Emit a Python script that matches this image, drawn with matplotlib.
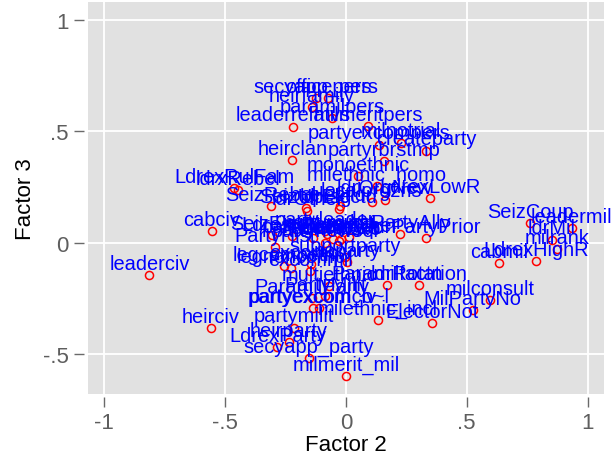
import matplotlib
matplotlib.use("Agg")
import matplotlib.pyplot as plt

# Rotated loadings: factor 2 (x) against factor 3 (y), one point per variable
names = [
    "secyapp_pers", "officepers", "heirfamily", "paramilpers", "leaderrelatvs",
    "milmeritpers", "partyexcompers", "milnotrial", "createparty", "heirclan",
    "partyrbrstmp", "monoethnic", "milethnic_homo", "LdrexLowR", "LdrexRulFam",
    "ldrxRebel", "SeizCoup", "leadermil", "ldrMil", "milrank",
    "LdrexHighR", "cabmil", "cabciv", "leaderciv", "heirciv",
    "partymilit", "heirparty", "LdrexParty", "secyapp_party", "milmerit_mil",
    "milethnic_incl", "ElectorNot", "MilPartyNo", "milconsult", "Paramilfactn",
    "ldrRotation", "multiethnic", "partyexcomciv", "partyexcom_o~l", "ParamilParty",
    "PartyMilit", "SeizRebel", "SeizUprsg", "ldrOther", "ldrElectd",
    "electldr", "localorgzns", "ldrOrgNew", "ldrPartyAlly", "ldrPartyPrior",
    "SeizElect", "LdrescPers", "partyhistory", "partyleader", "partymins",
    "partynewsel", "legislature", "electexec", "LdrexOther", "ldrMilExp",
    "PartyHist", "supportparty", "noparty", "excomciv", "excommil",
    "legcompetn", "legnoncomp",
]
f2 = [
    -0.125, -0.073, -0.141, -0.056, -0.218,
    0.093, 0.138, 0.229, 0.333, -0.222,
    0.158, 0.052, 0.129, 0.350, -0.461,
    -0.448, 0.762, 0.935, 0.853, 0.875,
    0.786, 0.635, -0.556, -0.813, -0.560,
    -0.214, -0.235, -0.283, -0.154, 0.002,
    0.133, 0.356, 0.525, 0.596, 0.172,
    0.301, -0.068, -0.137, -0.113, -0.141,
    -0.086, -0.309, -0.167, -0.159, -0.030,
    -0.024, 0.107, 0.161, 0.225, 0.330,
    -0.307, -0.223, -0.134, -0.086, -0.080,
    -0.086, -0.053, -0.022, 0.012, -0.027,
    -0.293, -0.005, 0.006, -0.146, -0.148,
    -0.254, -0.228,
]
f3 = [
    0.649, 0.649, 0.607, 0.559, 0.520,
    0.523, 0.439, 0.448, 0.412, 0.371,
    0.367, 0.299, 0.256, 0.200, 0.244,
    0.236, 0.086, 0.064, 0.013, -0.029,
    -0.083, -0.093, 0.051, -0.145, -0.382,
    -0.381, -0.447, -0.468, -0.519, -0.598,
    -0.347, -0.361, -0.302, -0.258, -0.190,
    -0.192, -0.196, -0.294, -0.294, -0.249,
    -0.240, 0.164, 0.154, 0.143, 0.152,
    0.162, 0.181, 0.193, 0.039, 0.019,
    0.032, 0.030, 0.021, 0.051, 0.039,
    0.000, 0.016, 0.016, 0.025, 0.009,
    -0.020, -0.066, -0.088, -0.096, -0.127,
    -0.104, -0.115,
]

xticks = [-1, -0.5, 0, 0.5, 1]
xticklabels = ["-1", "-.5", "0", ".5", "1"]
yticks = [-0.5, 0, 0.5, 1]
yticklabels = ["-.5", "0", ".5", "1"]

plt.rcParams["font.family"] = ["Liberation Sans", "DejaVu Sans"]
FS = 14.4      # marker labels
AXFS = 16      # ticks and axis titles
GREY = "#5e5e5e"

fig = plt.figure(figsize=(6.13, 4.64), dpi=100)
ax = fig.add_axes([88 / 613, 69 / 464, 516 / 613, 392 / 464])
ax.set_facecolor("#e1e1e1")

ax.plot(f2, f3, "o", ms=5.8, mfc="none", mec="#ff0000", mew=1.1, zorder=3)
for n, x, y in zip(names, f2, f3):
    ax.annotate(n, (x, y), xytext=(0, 4.5), textcoords="offset points",
                ha="center", va="baseline", color="#0000ff", fontsize=FS,
                zorder=4, annotation_clip=False)

ax.set_xlim(-1.067, 1.068)
ax.set_ylim(-0.679, 1.079)
ax.set_xticks(xticks)
ax.set_xticklabels(xticklabels)
ax.set_yticks(yticks)
ax.set_yticklabels(yticklabels)
ax.grid(True, color="white", lw=1.3)
ax.set_axisbelow(True)
for s in ax.spines.values():
    s.set_visible(False)
ax.spines["bottom"].set_position(("outward", 2))
ax.spines["left"].set_position(("outward", 3))
ax.tick_params(direction="out", length=7, width=1, color="#6a6a6a",
               labelcolor=GREY, labelsize=AXFS, pad=4)
ax.set_xlabel("Factor 2", fontsize=AXFS, color="black", labelpad=1)
ax.set_ylabel("Factor 3", fontsize=AXFS, color="black", labelpad=5)

fig.savefig("out.png", dpi=100)
